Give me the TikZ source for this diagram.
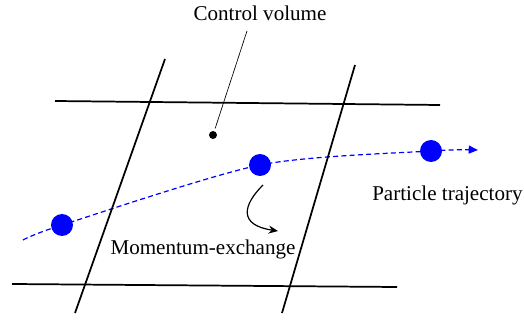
\documentclass[tikz,border=0pt]{standalone}
\usepackage{fontspec}
\setmainfont{LiberationSerif}[Extension=.ttf, UprightFont=*-Regular]
\usepackage{tikz}
\usetikzlibrary{positioning,arrows.meta,backgrounds}
\definecolor{partblue}{rgb}{0,0,1}

\begin{document}
\begin{tikzpicture}[
  x=0.75pt, y=-0.75pt,
  font=\fontsize{15.8}{19}\selectfont,
  gridline/.style={line width=1.3pt},
  particle/.style={circle, fill=partblue, minimum size=16.5pt, inner sep=0pt},
  cvdot/.style={circle, fill=black, minimum size=6pt, inner sep=0pt},
  traj/.style={partblue, line width=0.9pt, dash pattern=on 3.8pt off 2.4pt, -{Triangle[length=7pt, width=6pt]}},
  arrow/.style={-{Stealth[length=7pt, width=6pt]}, line width=0.9pt}
]
\useasboundingbox (0,0) rectangle (524,320);

% grid of the cells
\draw[gridline] (55,101) -- (440,105);
\draw[gridline] (12,284) -- (397,287);
\draw[gridline] (165,59) -- (75,313);
\draw[gridline] (355,65) -- (282,313);

% labels
\node (cvlabel) at (260,13) {Control volume};
\node[cvdot] (cv) at (213,135) {};
\draw[line width=0.5pt, shorten >=2pt] (247,31) -- (cv);

\node[particle] (p1) at (62,225) {};
\node[particle] (p2) at (260,165) {};
\node[particle] (p3) at (431,151) {};
\coordinate (t0) at (23,240);
\coordinate (t1) at (478,150);

\begin{scope}[on background layer]
\draw[traj] plot[smooth, tension=0.45] coordinates {(t0) (p1) (p2) (p3) (t1)};
\end{scope}

\node[anchor=west, inner sep=0pt] (trajlabel) at (372,195) {Particle trajectory};
\node (mexlabel) at (203,249) {Momentum-exchange};

\coordinate (m0) at (263,185);
\coordinate (m1) at (278,231);
\draw[arrow] (m0) .. controls (243,205) and (238,225) .. (m1);
\end{tikzpicture}
\end{document}
